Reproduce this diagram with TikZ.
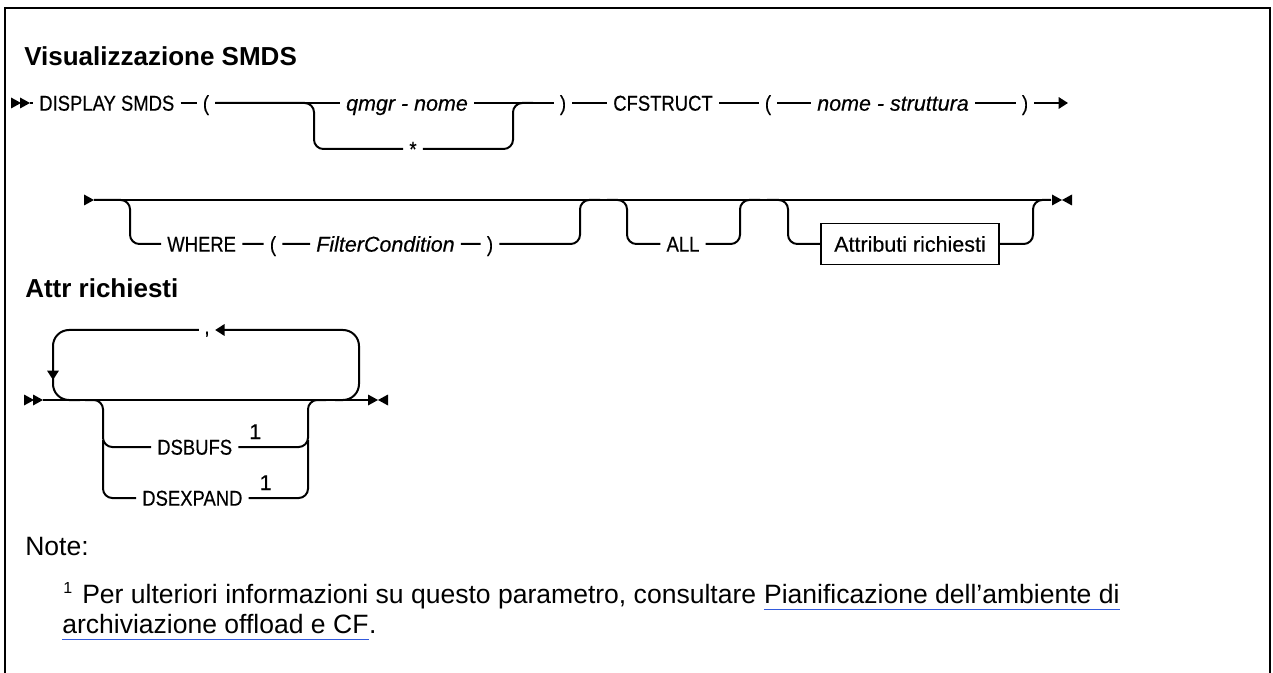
\documentclass[tikz,border=0pt]{standalone}
\usepackage{fontspec}
\usetikzlibrary{arrows.meta}
\setmainfont{Liberation Sans}
\newfontfamily\synfont[FakeStretch=0.86,FakeBold=0.4]{Liberation Sans}
\newfontfamily\varfont[FakeBold=0.4]{Liberation Sans}
\newcommand{\synsize}{\fontsize{16.1pt}{19pt}\selectfont}
\definecolor{linkblue}{RGB}{50,90,220}
\newcommand{\rtri}[1]{\fill (#1) -- ++(-10,5.5) -- ++(0,-11) -- cycle;}
\newcommand{\ltri}[1]{\fill (#1) -- ++(10,5.5) -- ++(0,-11) -- cycle;}

\begin{document}
\begin{tikzpicture}[x=0.75pt,y=-0.75pt,
  rail/.style={line width=1.5pt},
  railbend/.style={rail,rounded corners=7pt},
  railtip/.style={-{Triangle[length=7pt,width=8.5pt]}},
  kw/.style={font=\synfont\synsize,inner xsep=4.5pt,inner ysep=0pt,text height=11.5pt,text depth=0pt},
  varkw/.style={kw,font=\varfont\synsize\itshape},
  head/.style={font=\bfseries\fontsize{19.5pt}{23pt}\selectfont,inner sep=0pt,anchor=base west},
  note/.style={font=\fontsize{19.9pt}{22.5pt}\selectfont,inner sep=0pt,anchor=base west},
  link/.style={linkblue,line width=1pt}]
\useasboundingbox (0,0) rectangle (1273,673);
\draw[line width=2pt] (5,673) -- (5,8) -- (1270,8) -- (1270,673);

\node[head] (title) at (24,66) {Visualizzazione SMDS};

\rtri{21,103} \rtri{30,103}
\coordinate (s1) at (30,103);
\node[kw,anchor=west] (disp) at (33,103) {DISPLAY SMDS};
\node[kw] (lp1) at (206,103) {(};
\node[varkw] (qmgr) at (407,103) {qmgr - nome};
\node[kw] (star) at (413,149) {*};
\node[kw] (rp1) at (563,103) {)};
\node[kw,anchor=west] (cfs) at (607,103) {CFSTRUCT};
\node[kw] (lp2) at (768,103) {(};
\node[varkw,anchor=west] (nstr) at (811,103) {nome - struttura};
\node[kw] (rp2) at (1025,103) {)};
\coordinate (e1) at (1068,103);
\coordinate (q1) at (314,149);
\coordinate (q2) at (513,149);
\coordinate (q3) at (533,103);
\draw[rail] (s1) -- (disp) -- (lp1) -- (qmgr) -- (rp1) -- (cfs) -- (lp2) -- (nstr) -- (rp2);
\draw[rail,railtip] (rp2) -- (e1);
\draw[railbend] (lp1.east) -| (q1) -- (star);
\draw[railbend] (star) -- (q2) |- (q3);

\rtri{94,200}
\coordinate (s2) at (94,200);
\coordinate (e2) at (1051,200);
\node[kw,anchor=west] (where) at (161,244) {WHERE};
\node[kw] (lp3) at (273,244) {(};
\node[varkw,anchor=west] (filt) at (310,244) {FilterCondition};
\node[kw] (rp3) at (490,244) {)};
\node[kw] (all) at (683,244) {ALL};
\node[draw,line width=1.1pt,font=\varfont\synsize,minimum height=31pt,inner xsep=10pt] (attr) at (910,244) {Attributi richiesti};
\coordinate (w1) at (130,244);
\coordinate (w2) at (580,244);
\coordinate (w3) at (600,200);
\coordinate (a0) at (607,200);
\coordinate (a1) at (627,244);
\coordinate (a2) at (740,244);
\coordinate (a3) at (760,200);
\coordinate (r0) at (767,200);
\coordinate (r1) at (788,244);
\coordinate (r2) at (1033,244);
\draw[rail] (s2) -- (e2);
\draw[railbend] (s2) -| (w1) -- (where) -- (lp3) -- (filt) -- (rp3) -- (w2) |- (w3);
\draw[railbend] (a0) -| (a1) -- (all) -- (a2) |- (a3);
\draw[railbend] (r0) -| (r1) -- (attr) -- (r2) |- (e2);
\rtri{1062,200} \ltri{1062,200}

\node[head] (attrhead) at (25,298) {Attr richiesti};

\rtri{34,400} \rtri{43,400}
\coordinate (s3) at (43,400);
\coordinate (e3) at (368,400);
\draw[rail] (s3) -- (e3);
\rtri{378,400} \ltri{378,400}
\node[kw,inner xsep=4pt,text height=0pt] (comma) at (207,330) {\raisebox{-3pt}{,}};
\coordinate (c0) at (335,400);
\coordinate (c1) at (359,330);
\coordinate (c2) at (53,380);
\coordinate (c3) at (53,372);
\coordinate (c4) at (80,400);
\draw[rail,railtip,rounded corners=12pt] (c0) -| (c1) -- (comma.east);
\draw[rail,railtip,rounded corners=12pt] (comma.west) -| (c2);
\draw[rail,rounded corners=12pt] (c3) |- (c4);
\node[kw,anchor=west] (dsb) at (151,447) {DSBUFS};
\node[kw,anchor=west] (dse) at (136,498) {DSEXPAND};
\node[font=\varfont\synsize,inner sep=0pt,anchor=base west] (sup1) at ([xshift=8pt]dsb.north east) {1};
\node[font=\varfont\synsize,inner sep=0pt,anchor=base west] (sup2) at ([xshift=8pt]dse.north east) {1};
\coordinate (b0) at (85,400);
\coordinate (b1) at (103,447);
\coordinate (b2) at (103,440);
\coordinate (b3) at (103,498);
\coordinate (b4) at (308,447);
\coordinate (b5) at (308,498);
\coordinate (b6) at (308,440);
\coordinate (b7) at (326,400);
\draw[railbend] (b0) -| (b1) -- (dsb);
\draw[railbend] (b2) |- (dse);
\draw[railbend] (dsb) -- (b4) |- (b7);
\draw[railbend] (dse) -- (b5) -- (b6);

\node[note] (notes) at (25,555) {Note:};
\node[font=\fontsize{12pt}{14pt}\selectfont,inner sep=0pt,anchor=base west] (fmark) at (63,593) {1};
\node[note] (fn1) at (82,603) {Per ulteriori informazioni su questo parametro, consultare};
\node[note] (lk1) at ([xshift=5.5pt]fn1.base east) {Pianificazione dell'ambiente di};
\node[note] (lk2) at (62,633) {archiviazione offload e CF};
\node[note] (dot) at (lk2.base east) {.};
\draw[link] ([yshift=-5pt]lk1.base west) -- ([yshift=-5pt]lk1.base east);
\draw[link] ([yshift=-5pt]lk2.base west) -- ([yshift=-5pt]lk2.base east);
\end{tikzpicture}
\end{document}
